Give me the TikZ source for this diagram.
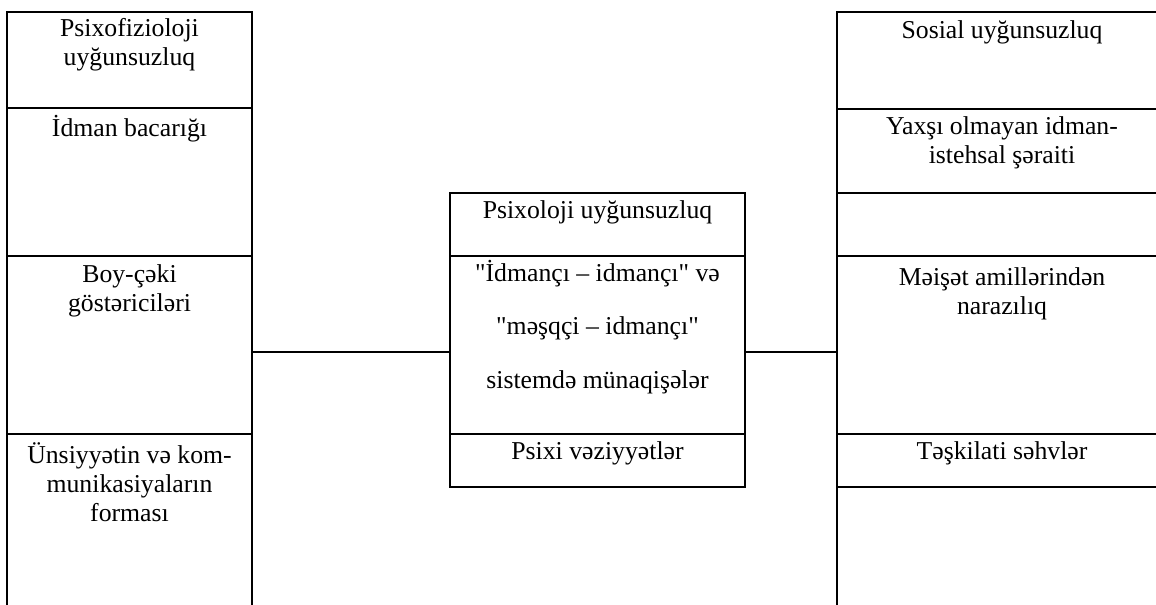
\documentclass[tikz,border=0pt]{standalone}
\usepackage{fontspec}
\setmainfont{Liberation Serif}[Ligatures=TeXOff]
\usetikzlibrary{fit}
\newcommand{\topstrut}{\rule{0pt}{18pt}}
\begin{document}
\begin{tikzpicture}[x=0.75pt,y=-0.75pt,
  box/.style={draw, line width=1.5pt, inner sep=0pt},
  txt/.style={anchor=north, inner sep=0pt, align=center, font=\fontsize{19.3}{22}\selectfont},
  wide/.style={anchor=north, inner sep=0pt, align=center, font=\fontsize{19.3}{40.1}\selectfont},
  link/.style={line width=1.5pt}]
\useasboundingbox (0,0) rectangle (1156,604);
\fill[white] (0,0) rectangle (1156,604);
\clip (0,0) rectangle (1156,604);
% left column
\node[box, fit={(7,12) (252,108)}] (L1) {};
\node[box, fit={(7,108) (252,256)}] (L2) {};
\node[box, fit={(7,256) (252,434)}] (L3) {};
\node[box, fit={(7,434) (252,612)}] (L4) {};
% centre column
\node[box, fit={(450,193) (745,256)}] (C1) {};
\node[box, fit={(450,256) (745,434)}] (C2) {};
\node[box, fit={(450,434) (745,487)}] (C3) {};
% right column
\node[box, fit={(837,12) (1168,109)}] (R1) {};
\node[box, fit={(837,109) (1168,193)}] (R2) {};
\node[box, fit={(837,193) (1168,256)}] (R3) {};
\node[box, fit={(837,256) (1168,434)}] (R4) {};
\node[box, fit={(837,434) (1168,487)}] (R5) {};
\node[box, fit={(837,487) (1168,612)}] (R6) {};
% texts
\node[txt] (tL1) at (129.5,12) {\topstrut Psixofizioloji\\uyğunsuzluq};
\node[txt] (tL2) at (129.5,112) {\topstrut İdman bacarığı};
\node[txt] (tL3) at (129.5,258) {\topstrut Boy-çəki\\göstəriciləri};
\node[txt] (tL4) at (129.5,439) {\topstrut Ünsiyyətin və kom-\\munikasiyaların\\forması};
\node[txt] (tC1) at (597.5,194) {\topstrut Psixoloji uyğunsuzluq};
\node[wide] (tC2) at (597.5,257) {\topstrut "İdmançı – idmançı" və\\"məşqçi – idmançı"\\sistemdə münaqişələr};
\node[txt] (tC3) at (597.5,435) {\topstrut Psixi vəziyyətlər};
\node[txt] (tR1) at (1002,14) {\topstrut Sosial uyğunsuzluq};
\node[txt] (tR2) at (1002,110) {\topstrut Yaxşı olmayan idman-\\istehsal şəraiti};
\node[txt] (tR4) at (1002,261) {\topstrut Məişət amillərindən\\narazılıq};
\node[txt] (tR5) at (1002,435) {\topstrut Təşkilati səhvlər};
% connectors
\coordinate (cy) at (0,352);
\draw[link] (L3.east |- cy) -- (C2.west |- cy);
\draw[link] (C2.east |- cy) -- (R4.west |- cy);
\end{tikzpicture}
\end{document}
